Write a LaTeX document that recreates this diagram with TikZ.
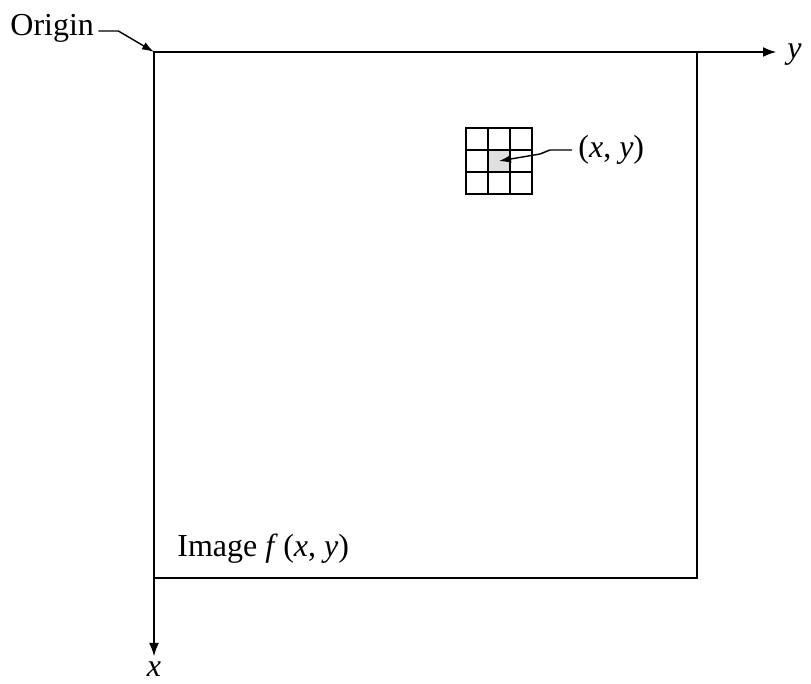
\documentclass[tikz,border=0pt]{standalone}
\usepackage{fontspec}
\setmainfont{Liberation Serif}
\usetikzlibrary{arrows.meta}
\begin{document}
\begin{tikzpicture}[x=0.5pt,y=-0.5pt,
  axis/.style={line width=1.4pt,-{Latex[length=7pt,width=5pt]}},
  frame/.style={line width=0.9pt},
  gridline/.style={line width=0.8pt},
  lbl/.style={font=\fontsize{16}{19}\selectfont,inner sep=0pt},
  pointer/.style={line width=0.7pt,-{Latex[length=6pt,width=4pt]}}]
\useasboundingbox (0,0) rectangle (811,684);
% axes
\coordinate (O) at (154,52);
\coordinate (yend) at (777,52);
\coordinate (xend) at (154,657);
\draw[frame] (O) rectangle (697,578);
\draw[axis] (O) -- (yend);
\draw[axis] (O) -- (xend);
\node[lbl,anchor=west] (ylab) at (787,55) {\textit{y}};
\node[lbl,anchor=base] (xlab) at (154,677) {\textit{x}};
% origin
\node[lbl,anchor=west] (orig) at (10,28) {Origin};
\draw[pointer] (orig.east) ++(4,3) coordinate (o1) -- ++(20,0) -- (O);
% grid
\fill[gray!25] (488,150) rectangle (510,172);
\draw[gridline] (466,128) rectangle (532,194);
\foreach \i in {1,2} {
  \draw[gridline] (466+22*\i,128) -- (466+22*\i,194);
  \draw[gridline] (466,128+22*\i) -- (532,128+22*\i);
}
\coordinate (cell) at (499,161);
\node[lbl,anchor=west] (xy) at (578,150) {(\textit{x}, \textit{y})};
\draw[pointer] (xy.west) ++(-6,0) -- ++(-22,0) -- ++(-10,4) -- (cell);
% image label
\node[lbl,anchor=west] (img) at (177,549) {Image \textit{f}\,(\textit{x}, \textit{y})};
\end{tikzpicture}
\end{document}
